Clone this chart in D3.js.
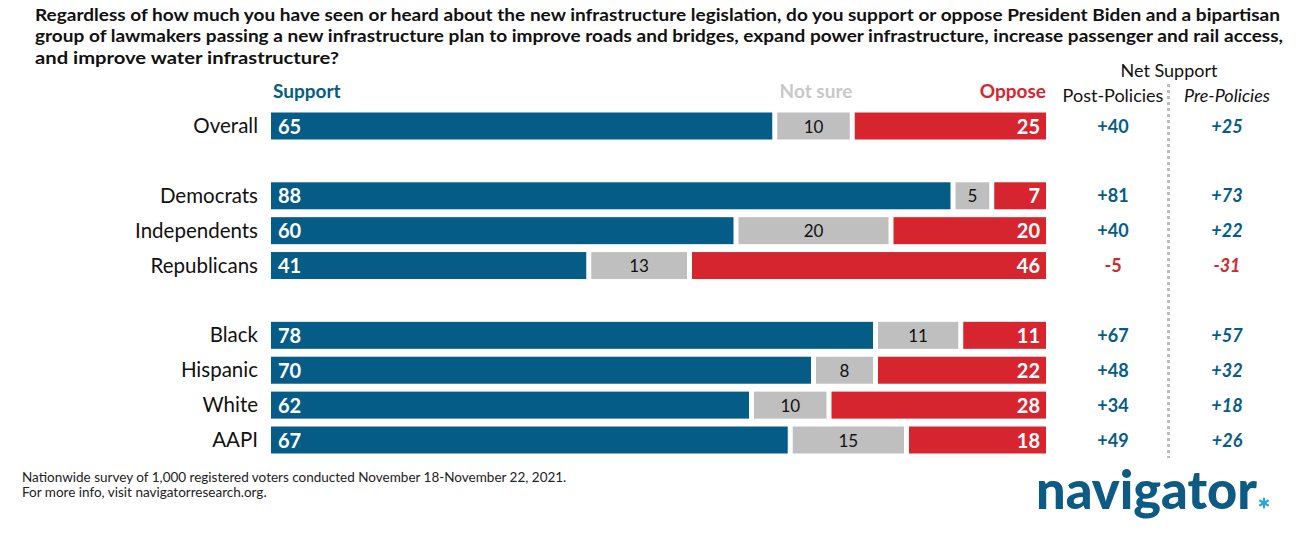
<!DOCTYPE html>
<html>
<head>
<meta charset="utf-8">
<script src="https://cdn.jsdelivr.net/npm/d3@7/dist/d3.min.js"></script>
<style>
  html, body { margin: 0; padding: 0; background: #fff; }
  svg { display: block; font-family: Lato, "Open Sans", sans-serif; }
</style>
</head>
<body>
<svg id="chart" width="1301" height="539"></svg>
<script>
// ---- data ----
const categories = ["Overall", "", "Democrats", "Independents", "Republicans", " ", "Black", "Hispanic", "White", "AAPI"];
const support    = [65, null, 88, 60, 41, null, 78, 70, 62, 67];
const notSure    = [10, null, 5, 20, 13, null, 11, 8, 10, 15];
const oppose     = [25, null, 7, 20, 46, null, 11, 22, 28, 18];
const netPost    = ["+40", null, "+81", "+40", "-5", null, "+67", "+48", "+34", "+49"];
const netPre     = ["+25", null, "+73", "+22", "-31", null, "+57", "+32", "+18", "+26"];
const titleLines = [
  "Regardless of how much you have seen or heard about the new infrastructure legislation, do you support or oppose President Biden and a bipartisan",
  "group of lawmakers passing a new infrastructure plan to improve roads and bridges, expand power infrastructure, increase passenger and rail access,",
  "and improve water infrastructure?"
];
const titleWidths = [1245, 1248, 304];
const footLines = [
  "Nationwide survey of 1,000 registered voters conducted November 18-November 22, 2021.",
  "For more info, visit navigatorresearch.org."
];

const BLUE = "#055c87", GREY = "#bfbfbf", RED = "#d7252f", LGREY = "#c8c8c8";

const svg = d3.select("#chart");

// title
svg.append("g").selectAll("text").data(titleLines).join("text")
  .attr("x", 35).attr("y", (d, i) => 21 + i * 21.3)
  .attr("font-size", 17).attr("font-weight", 700).attr("fill", "#111")
  .attr("textLength", (d, i) => titleWidths[i]).attr("lengthAdjust", "spacingAndGlyphs")
  .text(d => d);

const slots = categories.map((c, i) => i);
const y = d3.scalePoint().domain(slots).range([126, 440]);
const x = d3.scaleLinear().domain([0, 100]).range([271, 1046]);
const barH = 27, gap = 2.5;

const rows = slots.filter(i => support[i] !== null).map(i => ({
  i, cat: categories[i], s: support[i], n: notSure[i], o: oppose[i], post: netPost[i], pre: netPre[i]
}));

// headers
svg.append("text").attr("x", x(0) + 2).attr("y", 98).attr("font-size", 19).attr("font-weight", 700)
  .attr("fill", BLUE).text("Support");
svg.append("text").attr("x", 816).attr("y", 98).attr("text-anchor", "middle").attr("font-size", 19).attr("font-weight", 700)
  .attr("fill", LGREY).text("Not sure");
svg.append("text").attr("x", x(100)).attr("y", 98).attr("text-anchor", "end").attr("font-size", 19).attr("font-weight", 700)
  .attr("fill", RED).text("Oppose");
svg.append("text").attr("x", 1169).attr("y", 77).attr("text-anchor", "middle").attr("font-size", 18)
  .attr("fill", "#111").text("Net Support");
svg.append("text").attr("x", 1113).attr("y", 102).attr("text-anchor", "middle").attr("font-size", 18)
  .attr("fill", "#111").text("Post-Policies");
svg.append("text").attr("x", 1227).attr("y", 102).attr("text-anchor", "middle").attr("font-size", 18)
  .attr("font-style", "italic").attr("fill", "#111").text("Pre-Policies");

// dotted divider
svg.append("line").attr("x1", 1168.5).attr("x2", 1168.5).attr("y1", 84).attr("y2", 458)
  .attr("stroke", "#bdbdbd").attr("stroke-width", 3).attr("stroke-dasharray", "3,3");

const g = svg.append("g");
const row = g.selectAll("g.row").data(rows).join("g").attr("class", "row");

// category labels
row.append("text").attr("x", 258).attr("y", d => y(d.i) + 7)
  .attr("text-anchor", "end").attr("font-size", 20.5).attr("fill", "#111").text(d => d.cat);

// bars
row.append("rect").attr("x", x(0)).attr("y", d => y(d.i) - barH / 2)
  .attr("width", d => x(d.s) - x(0) - gap).attr("height", barH).attr("fill", BLUE);
row.append("rect").attr("x", d => x(d.s) + gap).attr("y", d => y(d.i) - barH / 2)
  .attr("width", d => x(d.s + d.n) - x(d.s) - 2 * gap).attr("height", barH).attr("fill", GREY);
row.append("rect").attr("x", d => x(d.s + d.n) + gap).attr("y", d => y(d.i) - barH / 2)
  .attr("width", d => x(100) - x(d.s + d.n) - gap).attr("height", barH).attr("fill", RED);

// bar values
row.append("text").attr("x", x(0) + 7).attr("y", d => y(d.i) + 7.5)
  .attr("font-size", 20).attr("font-weight", 700).attr("fill", "#fff").text(d => d.s);
row.append("text").attr("x", d => (x(d.s) + x(d.s + d.n)) / 2).attr("y", d => y(d.i) + 6.5)
  .attr("text-anchor", "middle").attr("font-size", 17).attr("fill", "#111").text(d => d.n);
row.append("text").attr("x", x(100) - 6).attr("y", d => y(d.i) + 7.5)
  .attr("text-anchor", "end").attr("font-size", 20).attr("font-weight", 700).attr("fill", "#fff").text(d => d.o);

// net values
row.append("text").attr("x", 1113).attr("y", d => y(d.i) + 6.5)
  .attr("text-anchor", "middle").attr("font-size", 18).attr("font-weight", 700)
  .attr("fill", d => d.post.startsWith("-") ? RED : BLUE).text(d => d.post);
row.append("text").attr("x", 1227).attr("y", d => y(d.i) + 6.5)
  .attr("text-anchor", "middle").attr("font-size", 18).attr("font-weight", 700).attr("font-style", "italic")
  .attr("fill", d => d.pre.startsWith("-") ? RED : BLUE).text(d => d.pre);

// footnote
svg.append("g").selectAll("text").data(footLines).join("text")
  .attr("x", 22).attr("y", (d, i) => 482 + i * 15)
  .attr("font-size", 13.5).attr("fill", "#222").text(d => d);

// logo
svg.append("text").attr("x", 1036).attr("y", 509).attr("font-size", 54).attr("font-weight", 900)
  .attr("fill", "#0d5a85").attr("textLength", 221).attr("lengthAdjust", "spacingAndGlyphs").text("navigator");
// logo asterisk mark (drawn as spokes)
const ast = svg.append("g").attr("transform", "translate(1264,503)")
  .attr("stroke", "#29a6de").attr("stroke-width", 2.2).attr("stroke-linecap", "round");
[90, 30, 150].forEach(a => {
  const r = 4.5, t = a * Math.PI / 180;
  ast.append("line").attr("x1", -r * Math.cos(t)).attr("y1", -r * Math.sin(t))
    .attr("x2", r * Math.cos(t)).attr("y2", r * Math.sin(t));
});
</script>
</body>
</html>
